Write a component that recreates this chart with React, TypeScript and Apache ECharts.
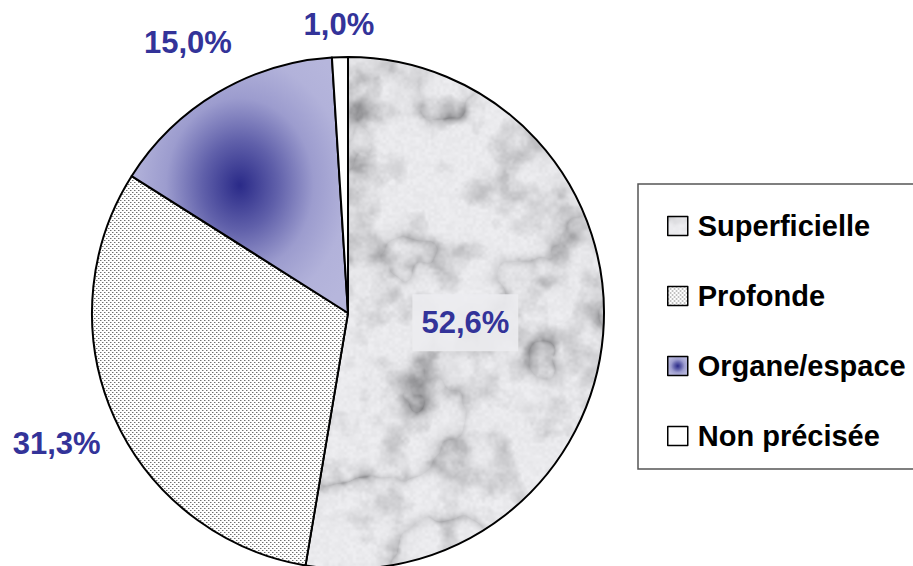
import React, { useEffect, useRef } from 'react';
import * as echarts from 'echarts';

const categories = ['Superficielle', 'Profonde', 'Organe/espace', 'Non précisée'];
const values = [52.6, 31.3, 15.0, 1.0];
const valueLabels = ['52,6%', '31,3%', '15,0%', '1,0%'];

// label placement (style): distance from centre as a multiple of the radius
const labelDistance = [0.46, 1.246, 1.227, 1.129];

const FONT = '"Liberation Sans", Arial, sans-serif';
const CX = 348;
const CY = 313;
const R = 256;

function makeMarble(w: number, h: number): HTMLCanvasElement {
  const c = document.createElement('canvas');
  c.width = w;
  c.height = h;
  const ctx = c.getContext('2d')!;
  const img = ctx.createImageData(w, h);
  const hash = (i: number, j: number) => {
    const s = Math.sin(i * 127.1 + j * 311.7) * 43758.5453;
    return s - Math.floor(s);
  };
  const noise = (x: number, y: number) => {
    const i = Math.floor(x), j = Math.floor(y);
    const fx = x - i, fy = y - j;
    const u = fx * fx * (3 - 2 * fx), v = fy * fy * (3 - 2 * fy);
    const a = hash(i, j), b = hash(i + 1, j), c2 = hash(i, j + 1), d = hash(i + 1, j + 1);
    return a + (b - a) * u + (c2 - a) * v + (a - b - c2 + d) * u * v;
  };
  const fbm = (x: number, y: number) => {
    let s = 0, amp = 0.5, f = 1;
    for (let k = 0; k < 4; k++) {
      s += amp * noise(x * f, y * f);
      f *= 2;
      amp *= 0.5;
    }
    return s;
  };
  for (let y = 0; y < h; y++) {
    for (let x = 0; x < w; x++) {
      const n1 = fbm(x / 90, y / 90);
      const n2 = fbm(x / 28 + 7, y / 28 + 3);
      const vein = 1 - Math.abs(Math.sin(x * 0.009 + y * 0.014 + n1 * 8));
      const dark =
        Math.pow(vein, 2.5) * 0.7 * n2 +
        Math.max(0, n2 - 0.45) * 1.0 +
        (noise(x / 3, y / 3) - 0.5) * 0.08;
      const base = Math.max(120, Math.min(242, 234 - dark * 115));
      const k = (y * w + x) * 4;
      img.data[k] = base;
      img.data[k + 1] = base;
      img.data[k + 2] = Math.min(255, base + 3);
      img.data[k + 3] = 255;
    }
  }
  ctx.putImageData(img, 0, 0);
  return c;
}

function makeDots(): HTMLCanvasElement {
  const c = document.createElement('canvas');
  c.width = 4;
  c.height = 4;
  const ctx = c.getContext('2d')!;
  ctx.fillStyle = '#ffffff';
  ctx.fillRect(0, 0, 4, 4);
  ctx.fillStyle = '#bcbcbc';
  ctx.fillRect(1, 0, 1, 1);
  ctx.fillRect(3, 2, 1, 1);
  ctx.fillStyle = '#707070';
  ctx.fillRect(0, 0, 1, 1);
  ctx.fillRect(2, 2, 1, 1);
  return c;
}

export default function App() {
  const ref = useRef<HTMLDivElement>(null);
  useEffect(() => {
    if (!ref.current) return;
    const chart = echarts.init(ref.current, undefined, { renderer: 'svg' });
    const marble = makeMarble(620, 620);
    const dots = makeDots();
    const fills: any[] = [
      { image: marble, repeat: 'repeat' },
      { image: dots, repeat: 'repeat' },
      {
        type: 'radial', x: 0.5, y: 0.5, r: 0.62,
        colorStops: [
          { offset: 0, color: '#2a2a88' },
          { offset: 0.28, color: '#6060aa' },
          { offset: 0.55, color: '#9c9cce' },
          { offset: 0.8, color: '#b2b2da' },
          { offset: 1, color: '#b6b6dc' },
        ],
      },
      '#ffffff',
    ];
    const total = values.reduce((a, b) => a + b, 0);
    const mids: number[] = [];
    let cum = 0;
    values.forEach((v) => {
      mids.push(((cum + v / 2) / total) * Math.PI * 2);
      cum += v;
    });

    chart.setOption({
      animation: false,
      legend: {
        orient: 'vertical',
        left: 662,
        top: 206,
        itemWidth: 20,
        itemHeight: 19,
        itemGap: 40,
        icon: 'rect',
        selectedMode: false,
        data: categories,
        itemStyle: { borderColor: '#000', borderWidth: 1.5 },
        textStyle: {
          fontFamily: FONT,
          fontWeight: 'bold',
          fontSize: 29,
          color: '#000',
          lineHeight: 30,
          padding: [0, 0, 0, 5],
        },
      },
      graphic: [
        {
          type: 'rect',
          shape: { x: 638, y: 184, width: 300, height: 285 },
          style: { fill: 'none', stroke: '#555', lineWidth: 1.5 },
          z: -1,
        },
      ],
      series: [
        {
          type: 'pie',
          center: [CX, CY],
          radius: R,
          startAngle: 90,
          clockwise: true,
          avoidLabelOverlap: false,
          itemStyle: { borderColor: '#000', borderWidth: 2 },
          emphasis: { disabled: true },
          labelLine: { show: false },
          label: {
            show: true,
            position: 'outside',
            fontFamily: FONT,
            fontWeight: 'bold',
            fontSize: 31,
            color: '#333399',
            formatter: (p: any) => valueLabels[p.dataIndex],
          },
          labelLayout: (p: any) => {
            const a = mids[p.dataIndex];
            const d = labelDistance[p.dataIndex] * R;
            return {
              x: CX + d * Math.sin(a),
              y: CY - d * Math.cos(a),
              align: 'center',
              verticalAlign: 'middle',
            };
          },
          data: categories.map((name, i) => ({
            name,
            value: values[i],
            itemStyle: { color: fills[i] },
            label:
              i === 0
                ? {
                    position: 'inside',
                    backgroundColor: 'rgba(236,236,240,0.9)',
                    padding: [14, 9, 12, 9],
                  }
                : {},
          })),
        },
      ],
    });
    return () => chart.dispose();
  }, []);
  return (
    <div
      ref={ref}
      style={{ position: 'fixed', left: 0, top: 0, width: 913, height: 566, background: '#fff' }}
    />
  );
}
